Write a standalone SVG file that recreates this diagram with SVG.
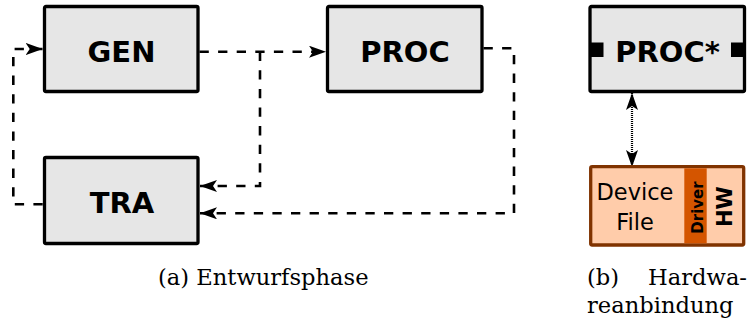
<svg xmlns="http://www.w3.org/2000/svg" width="749" height="325" viewBox="0 0 749 325">
<style>
.node{fill:#e6e6e6;stroke:#000;stroke-width:3.3}
.lbl{font-family:"DejaVu Sans",sans-serif;font-weight:bold;font-size:29px;text-anchor:middle;fill:#000}
.dash{fill:none;stroke:#000;stroke-width:2.6;stroke-dasharray:9.3 9.3}
.cap{font-family:"DejaVu Serif","Liberation Serif",serif;font-size:22.6px;fill:#000}
</style>
<defs>
<marker id="ah" markerUnits="userSpaceOnUse" viewBox="0 0 17 12" markerWidth="17" markerHeight="12" refX="17" refY="6" orient="auto">
<path d="M0,0 L17,6 L0,12 L4,6 Z" fill="#000"/>
</marker>
<marker id="ah2" markerUnits="userSpaceOnUse" viewBox="0 0 17 12" markerWidth="17" markerHeight="12" refX="17" refY="6" orient="auto-start-reverse">
<path d="M0,0 L17,6 L0,12 L4,6 Z" fill="#000"/>
</marker>
</defs>
<rect width="749" height="325" fill="#fff"/>
<g id="connectors">
<path class="dash" d="M199.5,51.7 H326" marker-end="url(#ah)"/>
<path class="dash" d="M260,51.7 V186 H200" marker-end="url(#ah)"/>
<path class="dash" d="M483.5,48.3 H514 V213.3 H200" marker-end="url(#ah)"/>
<path class="dash" d="M42.7,204.3 H13.3 V49 H42.7" marker-end="url(#ah)"/>
<path d="M632,93 V167" fill="none" stroke="#000" stroke-width="2.2" stroke-dasharray="1 1" marker-start="url(#ah2)" marker-end="url(#ah2)"/>
</g>
<g id="GEN">
<rect class="node" x="44.5" y="6.5" width="153.5" height="85" rx="1.5"/>
<text class="lbl" x="121.5" y="61.5">GEN</text>
</g>
<g id="PROC">
<rect class="node" x="327.5" y="6.5" width="154.5" height="85" rx="1.5"/>
<text class="lbl" x="405" y="61.5">PROC</text>
</g>
<g id="TRA">
<rect class="node" x="44.5" y="157.5" width="153.5" height="86" rx="1.5"/>
<text class="lbl" x="122" y="212.7">TRA</text>
</g>
<g id="PROCstar">
<rect class="node" x="590" y="6.5" width="154.5" height="85" rx="1.5"/>
<rect x="590" y="42.5" width="13.5" height="14.5" fill="#000"/>
<rect x="731" y="42.5" width="13.5" height="14.5" fill="#000"/>
<text class="lbl" x="667.5" y="61.7">PROC*</text>
</g>
<g id="DeviceFile">
<rect x="590.7" y="166.7" width="153" height="78.3" rx="1.5" fill="#ffccaa" stroke="#803300" stroke-width="3.3"/>
<rect x="684.3" y="168.3" width="22.4" height="75" fill="#d45500"/>
<text x="635" y="200" font-family="DejaVu Sans,sans-serif" font-size="22.5" text-anchor="middle" fill="#000">Device</text>
<text x="635" y="230" font-family="DejaVu Sans,sans-serif" font-size="22.5" text-anchor="middle" fill="#000">File</text>
<text transform="translate(703.3,207.5) rotate(-90)" font-family="DejaVu Sans,sans-serif" font-weight="bold" font-size="15" text-anchor="middle" fill="#000">Driver</text>
<text transform="translate(731.7,206.7) rotate(-90)" font-family="DejaVu Sans,sans-serif" font-weight="bold" font-size="21" text-anchor="middle" fill="#000">HW</text>
</g>
<g id="captions">
<text class="cap" x="158" y="285">(a) Entwurfsphase</text>
<text class="cap" x="587" y="285">(b)</text>
<text class="cap" x="747" y="285" text-anchor="end">Hardwa-</text>
<text class="cap" x="587" y="313">reanbindung</text>
</g>
</svg>
